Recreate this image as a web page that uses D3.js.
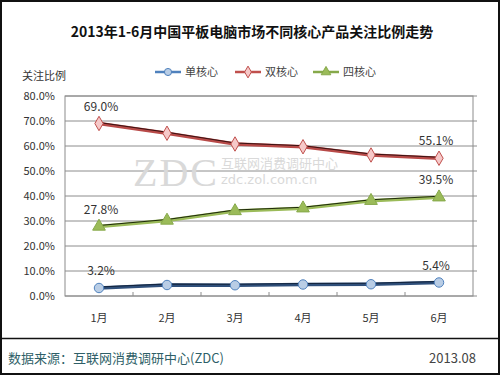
<!DOCTYPE html>
<html>
<head>
<meta charset="utf-8">
<script src="https://cdn.jsdelivr.net/npm/d3@7"></script>
<style>
  body { margin: 0; background: #fff; }
  svg { display: block; font-family: "Noto Sans CJK SC", "DejaVu Sans", sans-serif; }
</style>
</head>
<body>
<svg id="chart" width="500" height="375"></svg>
<script>
const months = ["1月", "2月", "3月", "4月", "5月", "6月"];
const seriesNames = ["单核心", "双核心", "四核心"];
const singleCore = [3.2, 4.4, 4.3, 4.6, 4.7, 5.4];
const dualCore = [69.0, 65.1, 60.8, 59.7, 56.4, 55.1];
const quadCore = [27.8, 30.2, 34.0, 35.1, 38.1, 39.5];
const yTicks = [0, 10, 20, 30, 40, 50, 60, 70, 80];

const width = 500, height = 375;
const plotLeft = 65, plotRight = 473, plotTop = 96, plotBottom = 296;

const svg = d3.select("#chart");

// frame
svg.append("rect").attr("x", 1).attr("y", 1).attr("width", width - 2).attr("height", height - 2)
  .attr("fill", "#fff").attr("stroke", "#111").attr("stroke-width", 2);

// title
svg.append("text").attr("x", 252).attr("y", 37).attr("text-anchor", "middle")
  .attr("font-size", 14).attr("font-weight", "bold").attr("fill", "#111")
  .text("2013年1-6月中国平板电脑市场不同核心产品关注比例走势");

svg.append("text").attr("x", 22).attr("y", 80).attr("font-size", 11).attr("fill", "#333")
  .text("关注比例");

const x = d3.scalePoint().domain(months).range([plotLeft, plotRight]).padding(0.5);
const y = d3.scaleLinear().domain([0, 80]).range([plotBottom, plotTop]);

// grid
svg.append("g").selectAll("line").data(yTicks).enter().append("line")
  .attr("x1", plotLeft).attr("x2", plotRight + 4)
  .attr("y1", d => y(d)).attr("y2", d => y(d))
  .attr("stroke", "#8c8c8c").attr("stroke-width", 1);

svg.append("rect").attr("x", plotLeft).attr("y", plotTop)
  .attr("width", plotRight - plotLeft).attr("height", plotBottom - plotTop)
  .attr("fill", "none").attr("stroke", "#8c8c8c");

// y axis labels
svg.append("g").selectAll("text").data(yTicks).enter().append("text")
  .attr("x", 55).attr("y", d => y(d) + 4).attr("text-anchor", "end")
  .attr("font-size", 11).attr("fill", "#333")
  .text(d => d3.format(".1f")(d) + "%");

// x ticks (inside, at category boundaries)
const step = x.step();
svg.append("g").selectAll("line").data(months.slice(1)).enter().append("line")
  .attr("x1", d => x(d) - step / 2).attr("x2", d => x(d) - step / 2)
  .attr("y1", plotBottom).attr("y2", plotBottom - 4)
  .attr("stroke", "#8c8c8c");

svg.append("g").selectAll("text").data(months).enter().append("text")
  .attr("x", d => x(d)).attr("y", 322).attr("text-anchor", "middle")
  .attr("font-size", 11).attr("fill", "#333").text(d => d);

// watermark
const wm = svg.append("g").attr("fill", "#d9d9d9");
wm.append("text").attr("x", 133).attr("y", 186).attr("font-size", 40)
  .attr("font-family", "Liberation Serif, serif").attr("textLength", 84).text("ZDC");
wm.append("text").attr("x", 221).attr("y", 168).attr("font-size", 13).text("互联网消费调研中心");
wm.append("text").attr("x", 221).attr("y", 184).attr("font-size", 13)
  .attr("font-family", "DejaVu Sans, sans-serif").text("zdc.zol.com.cn");

const series = [
  { name: seriesNames[0], values: singleCore, color: "#2f4f7a", dark: "#13243d", fill: "#b9cde5", stroke: "#4f81bd", shape: d3.symbolCircle, size: 70 },
  { name: seriesNames[1], values: dualCore, color: "#b84a48", dark: "#3a1212", fill: "#f6c9c9", stroke: "#c0504d", shape: d3.symbolDiamond, size: 60 },
  { name: seriesNames[2], values: quadCore, color: "#9bbb59", dark: "#1f2a0c", fill: "#9bbb59", stroke: "#86a94a", shape: d3.symbolTriangle, size: 70 }
];

const line = d3.line().x((d, i) => x(months[i])).y(d => y(d));

series.forEach(s => {
  svg.append("path").datum(s.values).attr("fill", "none")
    .attr("stroke", s.color).attr("stroke-width", 3.5).attr("d", line);
  svg.append("path").datum(s.values).attr("fill", "none")
    .attr("stroke", s.dark).attr("stroke-width", 1.2)
    .attr("transform", "translate(0,-1)").attr("d", line);
  svg.append("g").selectAll("path").data(s.values).enter().append("path")
    .attr("transform", (d, i) => `translate(${x(months[i])},${y(d)})`)
    .attr("d", d3.symbol().type(s.shape).size(s.size))
    .attr("fill", s.fill).attr("stroke", s.stroke).attr("stroke-width", 1);

  // labels at first and last point
  [0, s.values.length - 1].forEach(i => {
    svg.append("text").attr("x", x(months[i]) + (i === 0 ? 2 : -3)).attr("y", y(s.values[i]) - 13)
      .attr("text-anchor", "middle").attr("font-size", 12).attr("fill", "#333")
      .text(d3.format(".1f")(s.values[i]) + "%");
  });
});

// legend
const legendX = [155, 235, 313];
series.forEach((s, i) => {
  const g = svg.append("g").attr("transform", `translate(${legendX[i]},72)`);
  g.append("line").attr("x1", 0).attr("x2", 26).attr("stroke", s.stroke).attr("stroke-width", 2.5);
  g.append("path").attr("transform", "translate(13,0)")
    .attr("d", d3.symbol().type(s.shape).size(40)).attr("fill", s.fill).attr("stroke", s.stroke);
  g.append("text").attr("x", 30).attr("y", 4).attr("font-size", 11).attr("fill", "#444").text(s.name);
});

// footer
svg.append("line").attr("x1", 2).attr("x2", 498).attr("y1", 338.5).attr("y2", 338.5)
  .attr("stroke", "#111").attr("stroke-width", 1.5);
svg.append("text").attr("x", 8).attr("y", 363).attr("font-size", 13).attr("fill", "#2f5f68")
  .text("数据来源：互联网消费调研中心(ZDC)");
svg.append("text").attr("x", 476).attr("y", 363).attr("text-anchor", "end")
  .attr("font-size", 13).attr("fill", "#444").text("2013.08");
</script>
</body>
</html>
